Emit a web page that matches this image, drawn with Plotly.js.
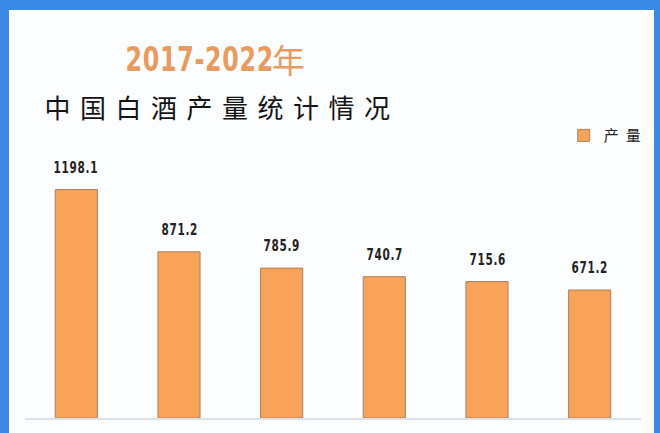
<!DOCTYPE html>
<html>
<head>
<meta charset="utf-8">
<script src="https://cdn.plot.ly/plotly-3.0.1.min.js"></script>
<style>
  html, body { margin: 0; padding: 0; background: #3a8ae6; width: 660px; height: 433px; overflow: hidden; }
  #plot { position: absolute; left: 9px; top: 10px; width: 645px; height: 423px; }
  /* narrow digits and spread out characters like the original */
  .annotation text { letter-spacing: 1px; transform-box: fill-box; transform-origin: center; transform: scaleX(0.7); }
  .annotation[data-index="1"] text { letter-spacing: 0; transform: none; }
  .annotation[data-index="2"] text { letter-spacing: 9.5px; transform: none; }
  .legendtext { letter-spacing: 7px; }
</style>
</head>
<body>
<div id="plot"></div>
<script>
// data
var years = ["2017", "2018", "2019", "2020", "2021", "2022"];
var output = [1198.1, 871.2, 785.9, 740.7, 715.6, 671.2];
var seriesName = "产量";

var bars = {
   x: years,
   y: output,
   type: "bar",
   name: seriesName,
   marker: { color: "#f9a25a",
             line: { width: 1,
                     color: "#a9815c" }},
   hoverinfo: "x+y"
};

var numFont = "DejaVu Sans, sans-serif";

var titles = [
   { text: "<b>2017-2022</b>", xref: "paper", yref: "paper", x: 0.2825, y: 1.345,
     xanchor: "center", yanchor: "middle", showarrow: false,
     font: { family: numFont, size: 34, color: "#e89b5f" } },
   { text: "年", xref: "paper", yref: "paper", x: 0.4278, y: 1.345,
     xanchor: "center", yanchor: "middle", showarrow: false,
     font: { family: "Noto Sans CJK SC", size: 33, color: "#e89b5f" } },
   { text: "中国白酒产量统计情况", xref: "paper", yref: "paper", x: 0.320, y: 1.167,
     xanchor: "center", yanchor: "middle", showarrow: false,
     font: { family: "Noto Sans CJK SC", size: 26, color: "#141414" } }
];

// value labels above each bar (x given as category index)
var labels = output.map(function (v, i) {
   return { x: i, y: v, text: "<b>" + v.toFixed(1) + "</b>",
            xanchor: "center", yanchor: "bottom", yshift: 11, showarrow: false,
            font: { family: numFont, size: 15, color: "#222222" } };
});

var layout = {
   width: 645,
   height: 423,
   margin: { l: 16, r: 13, t: 141, b: 15, autoexpand: false },
   paper_bgcolor: "#fcfdff",
   plot_bgcolor: "#fcfdff",
   bargap: 0.59,
   showlegend: true,
   legend: { xref: "container", yref: "container", x: 0.86, y: 0.703,
             xanchor: "left", yanchor: "middle",
             bgcolor: "rgba(0,0,0,0)",
             font: { family: "Noto Sans CJK SC", size: 15, color: "#222222" } },
   xaxis: { type: "category", range: [-0.5, 5.5], showticklabels: false, ticks: "",
            showgrid: false, zeroline: false,
            showline: true, linecolor: "#dde2ea", linewidth: 1.5 },
   yaxis: { range: [0, 1400], visible: false, showgrid: false, zeroline: false },
   annotations: titles.concat(labels)
};

Plotly.newPlot("plot", [bars], layout, { displayModeBar: false, staticPlot: true });
</script>
</body>
</html>
